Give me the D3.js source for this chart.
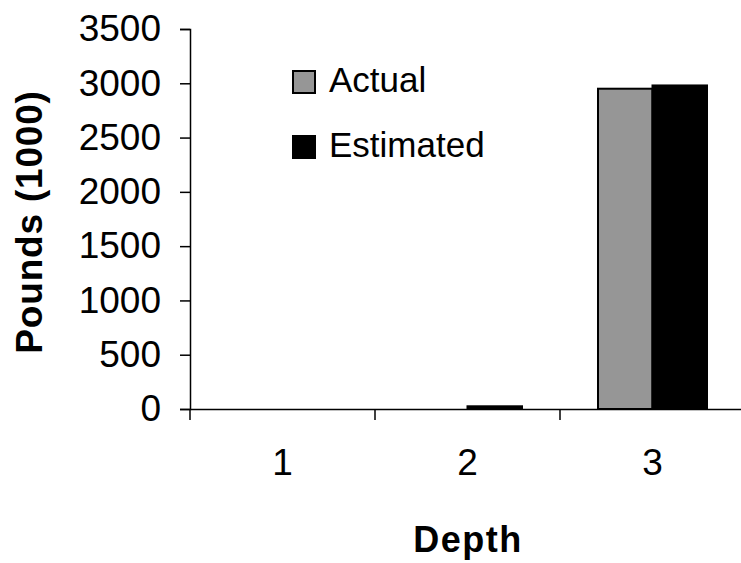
<!DOCTYPE html>
<html>
<head>
<meta charset="utf-8">
<script src="https://cdn.jsdelivr.net/npm/d3@7"></script>
<style>
  body { margin: 0; background: #fff; }
  text { font-family: "Liberation Sans", Arial, sans-serif; }
</style>
</head>
<body>
<svg id="chart"></svg>
<script>
const categories = ["1", "2", "3"];
const seriesNames = ["Actual", "Estimated"];
const actual = [0, 0, 2950];
const estimated = [0, 25, 2980];
const yTicks = [0, 500, 1000, 1500, 2000, 2500, 3000, 3500];
const colors = ["#969696", "#000000"];

const svg = d3.select("#chart")
    .attr("width", 741)
    .attr("height", 563)
    .attr("viewBox", [0, 0, 741, 563]);

const plotLeft = 190, plotRight = 745, plotTop = 29, plotBottom = 409;

const x = d3.scaleBand()
    .domain(categories)
    .range([plotLeft, plotRight]);

const x1 = d3.scaleBand()
    .domain(seriesNames)
    .range([38, x.bandwidth() - 38]);

const y = d3.scaleLinear()
    .domain([0, 3500])
    .range([plotBottom, plotTop]);

const rows = categories.map((c, i) => ({cat: c, values: [actual[i], estimated[i]]}));

// bars
const groups = svg.append("g")
    .selectAll("g")
    .data(rows)
    .join("g")
    .attr("transform", d => "translate(" + x(d.cat) + ",0)");

groups.selectAll("rect")
    .data(d => d.values.map((v, j) => ({name: seriesNames[j], value: v, j: j})))
    .join("rect")
    .attr("x", d => x1(d.name))
    .attr("y", d => y(d.value))
    .attr("width", x1.bandwidth())
    .attr("height", d => y(0) - y(d.value))
    .attr("fill", d => colors[d.j])
    .attr("stroke", d => d.value > 0 ? "#000" : "none")
    .attr("stroke-width", 2);

// y axis
const yAxis = svg.append("g")
    .attr("transform", "translate(" + plotLeft + ",0)")
    .call(d3.axisLeft(y).tickValues(yTicks).tickFormat(d3.format("d")).tickSize(10).tickPadding(19));
yAxis.select(".domain").attr("stroke", "#000").attr("stroke-width", 1.5);
yAxis.selectAll(".tick line").attr("stroke", "#000").attr("stroke-width", 1.5);
yAxis.selectAll(".tick text")
    .attr("font-size", 37)
    .attr("font-family", "Liberation Sans, Arial, sans-serif")
    .attr("fill", "#000");

// x axis
const xAxis = svg.append("g")
    .attr("transform", "translate(0," + plotBottom + ")")
    .call(d3.axisBottom(x).tickSize(0).tickPadding(40));
xAxis.select(".domain").attr("stroke", "#000").attr("stroke-width", 1.5);
xAxis.selectAll(".tick text")
    .attr("font-size", 37)
    .attr("font-family", "Liberation Sans, Arial, sans-serif")
    .attr("fill", "#000");

// category separator ticks
svg.append("g")
    .selectAll("line")
    .data(categories)
    .join("line")
    .attr("x1", d => x(d))
    .attr("x2", d => x(d))
    .attr("y1", plotBottom)
    .attr("y2", plotBottom + 11)
    .attr("stroke", "#000")
    .attr("stroke-width", 1.5);

// axis titles
svg.append("text")
    .attr("x", 468)
    .attr("y", 552)
    .attr("text-anchor", "middle")
    .attr("font-size", 36)
    .attr("font-weight", "bold")
    .attr("letter-spacing", 1.5)
    .text("Depth");

svg.append("text")
    .attr("transform", "translate(42,222) rotate(-90)")
    .attr("text-anchor", "middle")
    .attr("font-size", 37)
    .attr("font-weight", "bold")
    .attr("letter-spacing", 0.8)
    .text("Pounds (1000)");

// legend
const legend = svg.append("g")
    .selectAll("g")
    .data(seriesNames)
    .join("g")
    .attr("transform", (d, i) => "translate(293," + (71 + i * 65) + ")");

legend.append("rect")
    .attr("width", 22)
    .attr("height", 22)
    .attr("fill", (d, i) => colors[i])
    .attr("stroke", "#000")
    .attr("stroke-width", 2);

legend.append("text")
    .attr("x", 36)
    .attr("y", 21)
    .attr("font-size", 35)
    .text(d => d);
</script>
</body>
</html>
